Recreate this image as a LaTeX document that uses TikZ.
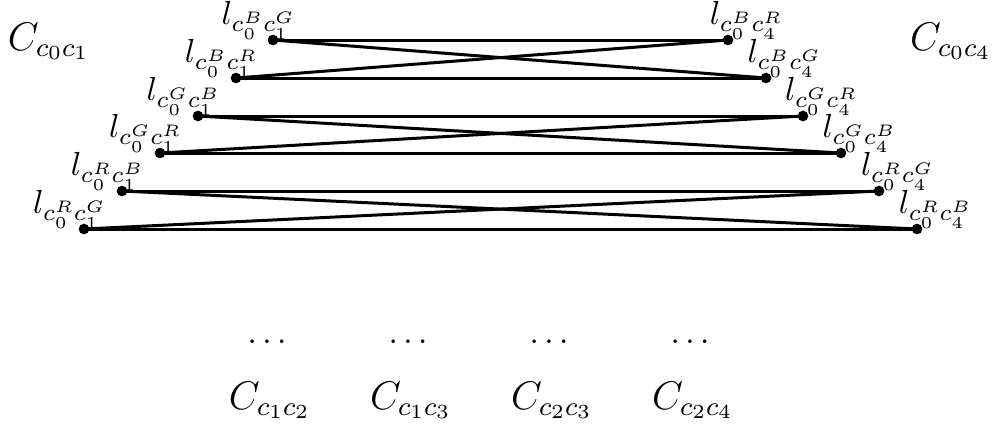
\documentclass[tikz,border=0pt]{standalone}
\begin{document}
\begin{tikzpicture}[x=0.3pt,y=-0.3pt,
  vtx/.style={circle,fill=black,inner sep=0pt,minimum size=3.2pt},
  edge/.style={line width=0.9pt},
  lbl/.style={anchor=base,inner sep=0pt},
  big/.style={anchor=base,inner sep=0pt,font=\large}]
\useasboundingbox (0,0) rectangle (994,423);
% left vertices
\node[vtx] (L1) at (273,40) {};
\node[vtx] (L2) at (236,78) {};
\node[vtx] (L3) at (198,116) {};
\node[vtx] (L4) at (160,153) {};
\node[vtx] (L5) at (122,191) {};
\node[vtx] (L6) at (84,229) {};
% right vertices
\node[vtx] (R1) at (728,40) {};
\node[vtx] (R2) at (766,78) {};
\node[vtx] (R3) at (803,116) {};
\node[vtx] (R4) at (841,153) {};
\node[vtx] (R5) at (879,191) {};
\node[vtx] (R6) at (917,229) {};
% labels
\node[lbl] (tL1) at (259,24) {$l_{c_0^B c_1^G}$};
\node[lbl] (tL2) at (222,62) {$l_{c_0^B c_1^R}$};
\node[lbl] (tL3) at (184,100) {$l_{c_0^G c_1^B}$};
\node[lbl] (tL4) at (146,137) {$l_{c_0^G c_1^R}$};
\node[lbl] (tL5) at (108,175) {$l_{c_0^R c_1^B}$};
\node[lbl] (tL6) at (70,213) {$l_{c_0^R c_1^G}$};
\node[lbl] (tR1) at (747,24) {$l_{c_0^B c_4^R}$};
\node[lbl] (tR2) at (785,62) {$l_{c_0^B c_4^G}$};
\node[lbl] (tR3) at (822,100) {$l_{c_0^G c_4^R}$};
\node[lbl] (tR4) at (860,137) {$l_{c_0^G c_4^B}$};
\node[lbl] (tR5) at (898,175) {$l_{c_0^R c_4^G}$};
\node[lbl] (tR6) at (936,213) {$l_{c_0^R c_4^B}$};
% edges
\draw[edge] (L1.center) -- (R1.center);
\draw[edge] (L2.center) -- (R2.center);
\draw[edge] (L1.center) -- (R2.center);
\draw[edge] (L2.center) -- (R1.center);
\draw[edge] (L3.center) -- (R3.center);
\draw[edge] (L4.center) -- (R4.center);
\draw[edge] (L3.center) -- (R4.center);
\draw[edge] (L4.center) -- (R3.center);
\draw[edge] (L5.center) -- (R5.center);
\draw[edge] (L6.center) -- (R6.center);
\draw[edge] (L5.center) -- (R6.center);
\draw[edge] (L6.center) -- (R5.center);
% component labels
\node[big] (C01) at (49,50) {$C_{c_0c_1}$};
\node[big] (C04) at (951,50) {$C_{c_0c_4}$};
\node[lbl] (d1) at (267,343) {$\dots$};
\node[lbl] (d2) at (408,343) {$\dots$};
\node[lbl] (d3) at (549,343) {$\dots$};
\node[lbl] (d4) at (690,343) {$\dots$};
\node[big] (C12) at (270,409) {$C_{c_1c_2}$};
\node[big] (C13) at (411,409) {$C_{c_1c_3}$};
\node[big] (C23) at (552,409) {$C_{c_2c_3}$};
\node[big] (C24) at (693,409) {$C_{c_2c_4}$};
\end{tikzpicture}
\end{document}
